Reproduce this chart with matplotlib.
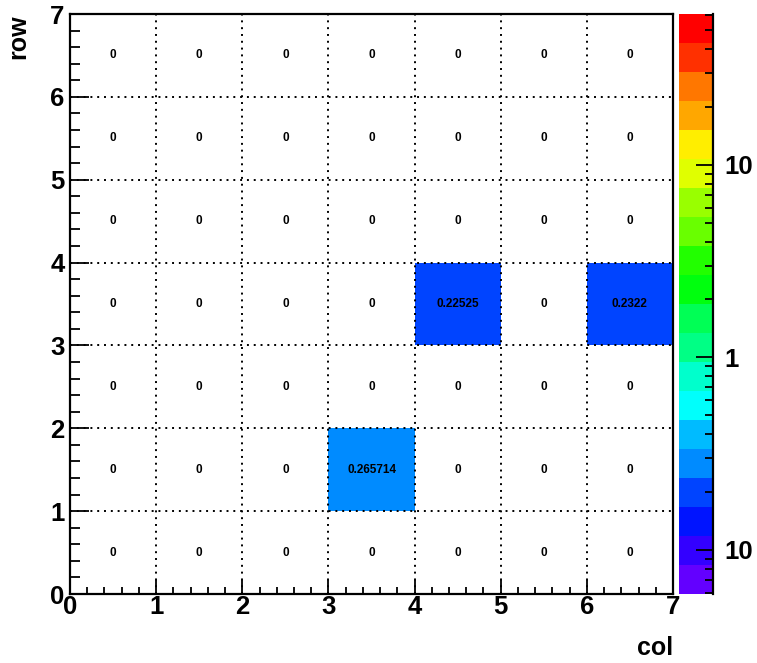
"""
2D occupancy map (row vs col) drawn ROOT-style: COLZ + TEXT, log z scale.
"""
import colorsys
import matplotlib
matplotlib.use('Agg')
import matplotlib.pyplot as plt
import numpy as np
from matplotlib.colors import ListedColormap, BoundaryNorm
from matplotlib.ticker import FixedLocator, FuncFormatter

plt.rcParams['font.family'] = ['Liberation Sans', 'DejaVu Sans']
plt.rcParams['font.weight'] = 'bold'

cols = [0, 1, 2, 3, 4, 5, 6]
rows = [0, 1, 2, 3, 4, 5, 6]
# counts[row][col], row 0 at the bottom
counts = [
    [0, 0, 0, 0,        0,       0, 0],
    [0, 0, 0, 0.265714, 0,       0, 0],
    [0, 0, 0, 0,        0,       0, 0],
    [0, 0, 0, 0,        0.22525, 0, 0.2322],
    [0, 0, 0, 0,        0,       0, 0],
    [0, 0, 0, 0,        0,       0, 0],
    [0, 0, 0, 0,        0,       0, 0],
]
z_min, z_max = 0.059, 60.8   # colour axis range
n_levels = 20

# ROOT "pretty" palette (SetPalette(1)): 50 hues 280 -> 0, 20 contour bands
pretty = []
for i in range(49):
    h = 280 - (i + 1) * 280 / 50
    pretty.append(colorsys.hls_to_rgb(h / 360, 0.5, 1.0))
pretty.append((1.0, 0.0, 0.0))
band_colors = [pretty[int((k + 0.99) * 50 / n_levels)] for k in range(n_levels)]
cmap = ListedColormap(band_colors)
levels = np.logspace(np.log10(z_min), np.log10(z_max), n_levels + 1)
norm = BoundaryNorm(levels, cmap.N)

z = np.array(counts, dtype=float)
zm = np.ma.masked_where(z <= 0, z)

W, H = 757, 663
fig = plt.figure(figsize=(W / 100, H / 100), dpi=100)
ax = fig.add_axes([70 / W, (H - 594) / H, 603 / W, 580 / H])
cax = fig.add_axes([679 / W, (H - 594) / H, 34 / W, 580 / H])

edges_x = np.arange(len(cols) + 1)
edges_y = np.arange(len(rows) + 1)
ax.pcolormesh(edges_x, edges_y, zm, cmap=cmap, norm=norm)

for r in rows:
    for c in cols:
        ax.text(c + 0.5, r + 0.5, f'{z[r, c]:g}', ha='center', va='center',
                fontsize=8.5, fontweight='bold', color='black')

ax.set_xlim(0, 7)
ax.set_ylim(0, 7)
ax.set_xticks(range(8))
ax.set_yticks(range(8))
ax.set_xticks(np.arange(0, 7.01, 0.2), minor=True)
ax.set_yticks(np.arange(0, 7.01, 0.2), minor=True)
ax.grid(True, which='major', color='black', linestyle=(0, (1, 2.5)), linewidth=1.4)
ax.set_axisbelow(False)
ax.tick_params(axis='x', which='major', direction='in', length=10, width=1.3,
               labelsize=18.5, pad=1)
ax.tick_params(axis='x', which='minor', direction='in', length=5, width=1.3)
ax.tick_params(axis='y', which='major', direction='in', length=14, width=1.3,
               labelsize=18.5, pad=4)
ax.tick_params(axis='y', which='minor', direction='in', length=7, width=1.3)
for lab in ax.get_xticklabels() + ax.get_yticklabels():
    lab.set_fontweight('bold')
for s in ax.spines.values():
    s.set_linewidth(1.6)

ax.set_xlabel('col', loc='right', fontsize=18, fontweight='bold')
ax.xaxis.set_label_coords(1.0, -0.072)
ax.set_ylabel('row', loc='top', fontsize=18, fontweight='bold')
ax.yaxis.set_label_coords(-0.066, 1.0)

# palette axis
cax.pcolormesh([0, 1], levels, np.arange(n_levels).reshape(-1, 1),
               cmap=cmap, vmin=-0.5, vmax=n_levels - 0.5)
cax.set_yscale('log')
cax.set_ylim(z_min, z_max)
cax.set_xlim(0, 1)
cax.set_xticks([])
cax.yaxis.tick_right()
cax.yaxis.set_major_locator(FixedLocator([0.1, 1, 10]))
minor = [m * d for d in (0.01, 0.1, 1, 10) for m in range(2, 10)]
cax.yaxis.set_minor_locator(FixedLocator(minor))
cax.yaxis.set_major_formatter(FuncFormatter(lambda v, p: '1' if v == 1 else '10'))
cax.yaxis.set_minor_formatter(FuncFormatter(lambda v, p: ''))
cax.tick_params(axis='y', which='major', direction='in', length=12, width=1.3,
                labelsize=18.5, pad=8)
cax.tick_params(axis='y', which='minor', direction='in', length=6, width=1.3)
for lab in cax.get_yticklabels():
    lab.set_fontweight('bold')
for s in cax.spines.values():
    s.set_visible(False)
cax.spines['right'].set_visible(True)
cax.spines['right'].set_linewidth(1.6)

fig.savefig('out.png', dpi=100)
